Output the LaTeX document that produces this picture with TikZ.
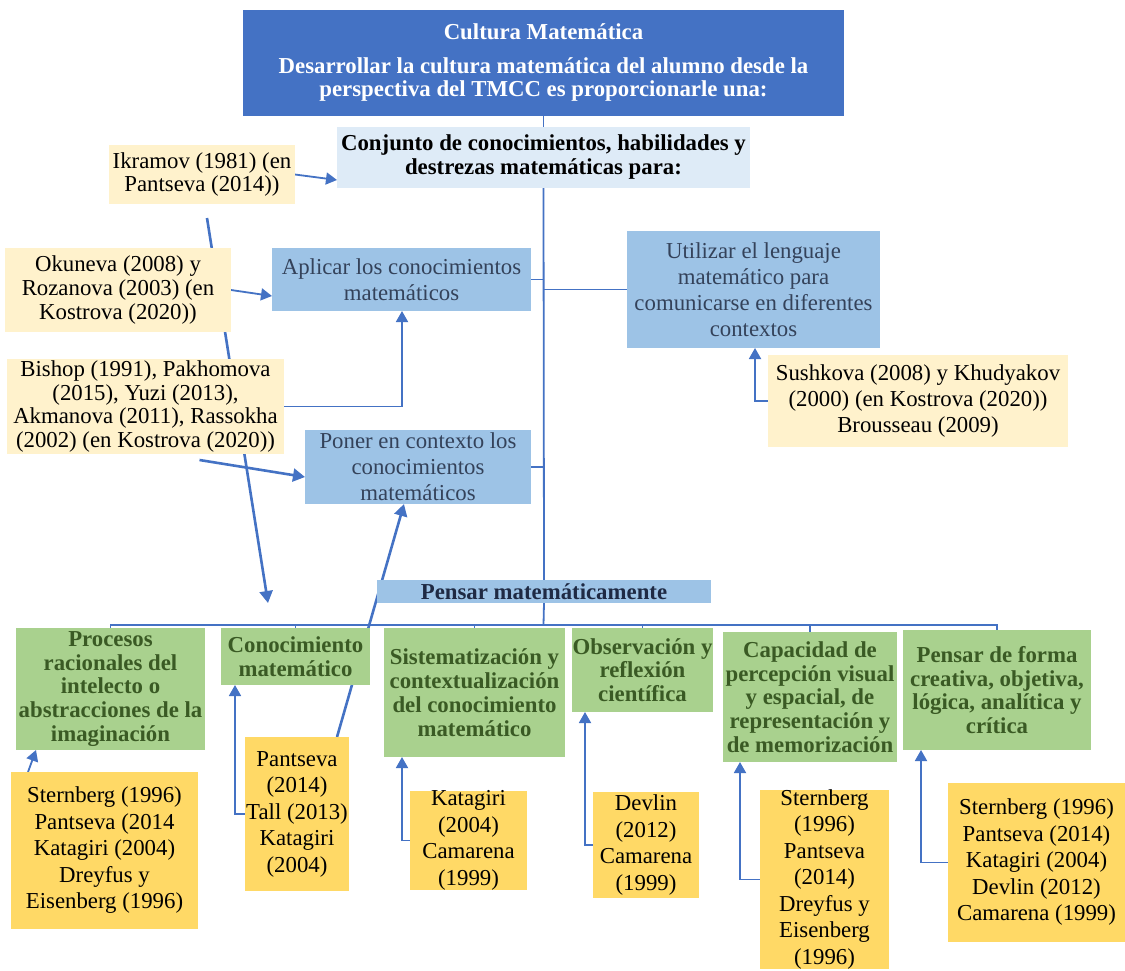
\documentclass[tikz,border=0pt]{standalone}
\usepackage{fontspec}
\setmainfont{Liberation Serif}
\usetikzlibrary{arrows.meta,calc}
\pgfdeclarelayer{bg}
\pgfsetlayers{bg,main}
\definecolor{cTitle}{HTML}{4472C4}
\definecolor{cConj}{HTML}{DEEBF7}
\definecolor{cBlue}{HTML}{9DC3E6}
\definecolor{cGreen}{HTML}{A9D18E}
\definecolor{cLY}{HTML}{FFF2CC}
\definecolor{cDY}{HTML}{FFD966}
\definecolor{cLine}{HTML}{4472C4}
\definecolor{cBlueTxt}{HTML}{34425A}
\definecolor{cNavy}{HTML}{1F2A44}
\definecolor{cGreenTxt}{HTML}{3A5A24}
\tikzset{
  bx/.style={inner sep=0pt, outer sep=0pt, align=center, anchor=center},
  titlebox/.style={bx, fill=cTitle, text=white, font=\fontsize{11.4}{11.5}\selectfont\bfseries},
  conjbox/.style={bx, fill=cConj, text=black, font=\fontsize{11.4}{12}\selectfont\bfseries},
  bluebox/.style={bx, fill=cBlue, text=cBlueTxt, font=\fontsize{11.4}{13}\selectfont},
  pensbox/.style={bx, fill=cBlue, text=cNavy, font=\fontsize{11.4}{12}\selectfont\bfseries},
  lybox/.style={bx, fill=cLY, text=black, font=\fontsize{11.4}{11.8}\selectfont},
  lyboxb/.style={bx, fill=cLY, text=black, font=\fontsize{11.4}{13}\selectfont},
  greenbox/.style={bx, fill=cGreen, text=cGreenTxt, font=\fontsize{11.4}{11.9}\selectfont\bfseries},
  dybox/.style={bx, fill=cDY, text=black, font=\fontsize{11.4}{13.25}\selectfont},
  org/.style={draw=cLine, line width=0.9pt},
  arr/.style={draw=cLine, line width=0.9pt, -{Triangle[length=5.5pt,width=6pt]}},
  arrT/.style={draw=cLine, line width=1.3pt, -{Triangle[length=6pt,width=6.5pt]}},
}
\begin{document}
\begin{tikzpicture}[x=0.5pt,y=-0.5pt]
\useasboundingbox (0,0) rectangle (1125,970);
\begin{pgfonlayer}{bg}
\fill[white] (0,0) rectangle (1125,970);
\end{pgfonlayer}

% top
\node[titlebox, minimum width=300.5pt, minimum height=53pt] (title) at (543.5,63)
  {Cultura Matemática\\[5.5pt]Desarrollar la cultura matemática del alumno desde la\\perspectiva del TMCC es proporcionarle una:};
\node[conjbox, minimum width=206.5pt, minimum height=30.5pt] (conj) at (543.5,157.5)
  {Conjunto de conocimientos, habilidades y\\destrezas matemáticas para:};

% left references
\node[lybox, minimum width=93pt, minimum height=29.5pt] (ikr) at (202,174.5)
  {Ikramov (1981) (en\\Pantseva (2014))};
\node[lybox, minimum width=113pt, minimum height=42pt] (oku) at (118,290)
  {Okuneva (2008) y\\Rozanova (2003) (en\\Kostrova (2020))};
\node[lybox, minimum width=138.5pt, minimum height=47.5pt] (bish) at (145.5,406.5)
  {Bishop (1991), Pakhomova\\(2015), Yuzi (2013),\\Akmanova (2011), Rassokha\\(2002) (en Kostrova (2020))};

% blue boxes
\node[bluebox, minimum width=129.5pt, minimum height=31.5pt] (aplic) at (401.5,279.5)
  {Aplicar los conocimientos\\matemáticos};
\node[bluebox, minimum width=113pt, minimum height=37pt] (poner) at (418,467)
  {Poner en contexto los\\conocimientos\\matemáticos};
\node[bluebox, minimum width=126.5pt, minimum height=58.5pt] (util) at (753.5,289.5)
  {Utilizar el lenguaje\\matemático para\\comunicarse en diferentes\\contextos};
\node[lyboxb, minimum width=150pt, minimum height=46pt] (sush) at (918,401)
  {Sushkova (2008) y Khudyakov\\(2000) (en Kostrova (2020))\\Brousseau (2009)};
\node[pensbox, minimum width=167pt, minimum height=11.5pt] (pensar) at (544,591.5)
  {Pensar matemáticamente};

% green boxes
\node[greenbox, minimum width=94.5pt, minimum height=61pt] (proc) at (110.5,689)
  {Procesos\\racionales del\\intelecto o\\abstracciones de la\\imaginación};
\node[greenbox, minimum width=74.5pt, minimum height=28.5pt] (conoc) at (295.5,656.5)
  {Conocimiento\\matemático};
\node[greenbox, minimum width=90.5pt, minimum height=64.5pt] (sist) at (474.5,692.5)
  {Sistematización y\\contextualización\\del conocimiento\\matemático};
\node[greenbox, minimum width=70.5pt, minimum height=42pt] (obs) at (642.5,670)
  {Observación y\\reflexión\\científica};
\node[greenbox, minimum width=87pt, minimum height=65pt] (cap) at (810,697)
  {Capacidad de\\percepción visual\\y espacial, de\\representación y\\de memorización};
\node[greenbox, minimum width=94pt, minimum height=60pt] (pfor) at (997,690)
  {Pensar de forma\\creativa, objetiva,\\lógica, analítica y\\crítica};

% dark yellow boxes
\node[dybox, minimum width=93.5pt, minimum height=78.5pt] (sL) at (104.5,850.5)
  {Sternberg (1996)\\Pantseva (2014\\Katagiri (2004)\\Dreyfus y\\Eisenberg (1996)};
\node[dybox, minimum width=52pt, minimum height=77pt] (pant) at (297,814)
  {Pantseva\\(2014)\\Tall (2013)\\Katagiri\\(2004)};
\node[dybox, minimum width=58.5pt, minimum height=48.5pt] (kat) at (468.5,840.5)
  {Katagiri\\(2004)\\Camarena\\(1999)};
\node[dybox, minimum width=53pt, minimum height=53pt] (dev) at (646,845)
  {Devlin\\(2012)\\Camarena\\(1999)};
\node[dybox, minimum width=64.5pt, minimum height=88.5pt] (sC) at (824.5,879.5)
  {Sternberg\\(1996)\\Pantseva\\(2014)\\Dreyfus y\\Eisenberg\\(1996)};
\node[dybox, minimum width=88.5pt, minimum height=79.5pt] (sR) at (1036.5,862.5)
  {Sternberg (1996)\\Pantseva (2014)\\Katagiri (2004)\\Devlin (2012)\\Camarena (1999)};

\coordinate (bar) at (543.5,625);
\coordinate (ikend) at (268,603);

\begin{pgfonlayer}{bg}
  % org chart
  \draw[org] (title.south) -- (conj.north);
  \draw[org] (conj.south) -- (pensar.north);
  \draw[org] (aplic.east) -- (aplic.east -| conj.south);
  \draw[org] (util.west) -- (util.west -| conj.south);
  \draw[org] (poner.east) -- (poner.east -| conj.south);
  \draw[org] (pensar.south) -- (bar);
  \draw[org] (proc.north) -- (proc.north |- bar) -- (pfor.north |- bar) -- (pfor.north);
  \foreach \n in {conoc,sist,obs,cap} \draw[org] (\n.north) -- (\n.north |- bar);
  % reference arrows
  \draw[arr] (ikr.east) -- ([yshift=-11.25pt]conj.west);
  \draw[arrT] ([xshift=2.5pt,yshift=-7pt]ikr.south) -- (ikend);
  \draw[arr] (oku.east) -- ([yshift=-8.25pt]aplic.west);
  \draw[arr] (bish.east) -| ([xshift=65pt]aplic.south west);
  \draw[arrT] ([xshift=27pt,yshift=-3pt]bish.south) -- ([yshift=-5pt]poner.west);
  \draw[arrT] ([xshift=20pt]pant.north) -- ([xshift=-7pt]poner.south);
  \draw[arr] (sush.west) -| ([xshift=64pt]util.south west);
  \draw[arr] ([xshift=8.5pt]sL.north west) -- ([xshift=10pt]proc.south west);
  \draw[arr] (pant.west) -| ([xshift=7pt]conoc.south west);
  \draw[arr] (kat.west) -| ([xshift=9pt]sist.south west);
  \draw[arr] (dev.west) -| ([xshift=6.5pt]obs.south west);
  \draw[arr] (sC.west) -| ([xshift=8.5pt]cap.south west);
  \draw[arr] (sR.west) -| ([xshift=9pt]pfor.south west);
\end{pgfonlayer}
\end{tikzpicture}
\end{document}
